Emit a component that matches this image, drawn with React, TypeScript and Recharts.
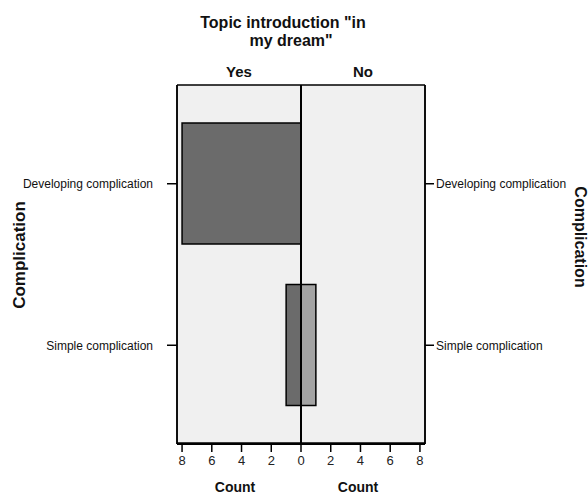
import React from "react";
import {
  BarChart,
  Bar,
  XAxis,
  YAxis,
  CartesianGrid,
  ReferenceLine,
} from "recharts";

const categories = ["Developing complication", "Simple complication"];
const yesCounts = [8, 1];
const noCounts = [0, 1];
const countTicks = [-8, -6, -4, -2, 0, 2, 4, 6, 8];

const data = categories.map((c, i) => ({
  cat: c,
  yes: -yesCounts[i],
  no: noCounts[i],
}));

const FONT = "'Liberation Sans', Arial, Helvetica, sans-serif";
const DOMAIN: [number, number] = [-8.34, 8.34];
const LINE = { stroke: "#000", strokeWidth: 1.5 };

export default function App() {
  return (
    <div
      style={{
        position: "absolute",
        left: 0,
        top: 0,
        width: 588,
        height: 495,
        overflow: "hidden",
        fontFamily: FONT,
      }}
    >
      <BarChart
        width={588}
        height={495}
        data={data}
        layout="vertical"
        stackOffset="sign"
        margin={{ top: 85, right: 0, bottom: 0, left: 0 }}
      >
        <CartesianGrid
          fill="#f0f0f0"
          stroke="#000"
          strokeWidth={1.5}
          horizontalCoordinatesGenerator={({ offset }: any) => [
            offset.top,
            offset.top + offset.height - 1,
          ]}
          verticalCoordinatesGenerator={({ offset }: any) => [
            offset.left,
            offset.left + offset.width,
          ]}
          syncWithTicks={false}
        />
        <XAxis
          type="number"
          domain={DOMAIN}
          ticks={countTicks}
          allowDataOverflow
          tickFormatter={(v: number) => String(Math.abs(v))}
          axisLine={{ stroke: "#000", strokeWidth: 2 }}
          tickLine={LINE}
          tickSize={8}
          tickMargin={4}
          height={51}
          tick={{ fill: "#222", fontSize: 13, fontFamily: FONT }}
          interval={0}
        />
        <YAxis
          type="category"
          dataKey="cat"
          width={177}
          padding={{ top: 18, bottom: 18 }}
          axisLine={LINE}
          tickLine={LINE}
          tickSize={10}
          tickMargin={14}
          tick={{ fill: "#111", fontSize: 12, fontFamily: FONT }}
          interval={0}
        />
        <YAxis
          yAxisId="r"
          orientation="right"
          type="category"
          dataKey="cat"
          width={163}
          padding={{ top: 18, bottom: 18 }}
          axisLine={LINE}
          tickLine={LINE}
          tickSize={9}
          tickMargin={2}
          tick={{ fill: "#111", fontSize: 12, fontFamily: FONT }}
          interval={0}
        />
        <Bar
          dataKey="yes"
          stackId="s"
          fill="#6b6b6b"
          stroke="#000"
          strokeWidth={1.5}
          barSize={121}
          isAnimationActive={false}
        />
        <Bar
          dataKey="no"
          stackId="s"
          fill="#a3a3a3"
          stroke="#000"
          strokeWidth={1.5}
          barSize={121}
          isAnimationActive={false}
        />
        <ReferenceLine x={0} stroke="#000" strokeWidth={2} />
      </BarChart>
      <svg
        width={588}
        height={495}
        style={{ position: "absolute", left: 0, top: 0, pointerEvents: "none" }}
        fontFamily={FONT}
      >
        <text x={283} y={28} textAnchor="middle" fontSize={16} fontWeight="bold" fill="#111">
          Topic introduction "in
        </text>
        <text x={291} y={46} textAnchor="middle" fontSize={16} fontWeight="bold" fill="#111">
          my dream"
        </text>
        <text x={239} y={77} textAnchor="middle" fontSize={15} fontWeight="bold" fill="#111">
          Yes
        </text>
        <text x={363} y={77} textAnchor="middle" fontSize={15} fontWeight="bold" fill="#111">
          No
        </text>
        <text
          x={19}
          y={255}
          textAnchor="middle"
          dominantBaseline="central"
          fontSize={17}
          fontWeight="bold"
          fill="#111"
          transform="rotate(-90 19 255)"
        >
          Complication
        </text>
        <text
          x={580}
          y={237}
          textAnchor="middle"
          dominantBaseline="central"
          fontSize={16}
          fontWeight="bold"
          fill="#111"
          transform="rotate(90 580 237)"
        >
          Complication
        </text>
        <text x={235} y={492} textAnchor="middle" fontSize={14} fontWeight="bold" fill="#111">
          Count
        </text>
        <text x={358} y={492} textAnchor="middle" fontSize={14} fontWeight="bold" fill="#111">
          Count
        </text>
      </svg>
    </div>
  );
}
